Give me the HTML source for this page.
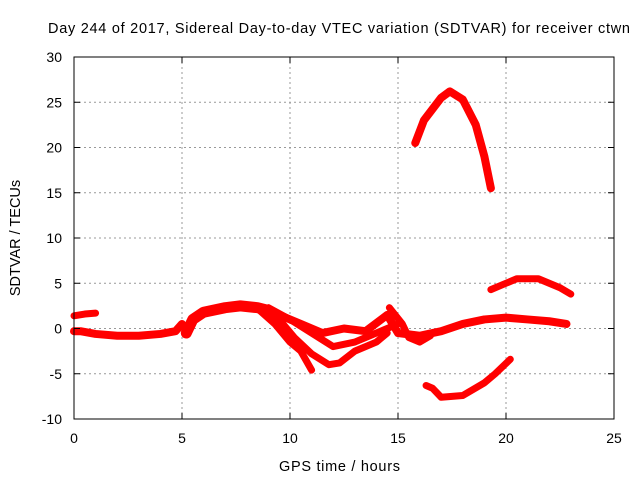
<!DOCTYPE html>
<html><head><meta charset="utf-8"><style>
body{margin:0;background:#fff}
svg{display:block;font-family:"Liberation Sans",sans-serif}
</style></head><body>
<svg id="chart" width="640" height="480" viewBox="0 0 640 480">
<text x="48" y="33" font-size="14.5" textLength="582" lengthAdjust="spacing">Day 244 of 2017, Sidereal Day-to-day VTEC variation (SDTVAR) for receiver ctwn</text>
<text x="279" y="471" font-size="14.5" textLength="121" lengthAdjust="spacing">GPS time / hours</text>
<text transform="translate(20,238) rotate(-90)" font-size="14.5" text-anchor="middle">SDTVAR / TECUs</text>
<g id="grid"></g>
<g id="series"></g>
<rect x="74" y="57" width="540" height="362" fill="none" stroke="#000" stroke-width="1"/>
<g id="ticks"></g>
</svg>
<script>
const xTicks=[0,5,10,15,20,25];
const yTicks=[-10,-5,0,5,10,15,20,25,30];
const trackA=[[0,1.4],[0.5,1.6],[1,1.7]];
const trackB=[[0,-0.3],[0.3,-0.3],[1,-0.6],[2,-0.8],[3,-0.8],[4,-0.6],[4.7,-0.3],[5,0.5]];
const trackC=[[5.2,-0.5],[5.5,1],[6,1.8],[7,2.3],[7.7,2.5],[8.5,2.3],[9,2]];
const trackD=[[8.5,2.2],[9.3,0.5],[10,-1.5],[10.5,-2.5],[11,-4.6]];
const trackE=[[8.8,2],[9.5,1],[10.2,-1],[11,-2.8],[11.8,-4],[12.3,-3.8],[13,-2.5],[14,-1.5],[14.5,-0.5]];
const trackF=[[9,2.3],[10,1],[11,-0.5],[12,-2],[13,-1.5],[14,-0.5],[15,0.5]];
const trackG=[[9.5,1.5],[10.5,0.5],[11.5,-0.5],[12.5,0],[13.5,-0.3],[14.5,1.5],[15,-0.5],[16,-0.8],[17,-0.3],[18,0.5],[19,1],[20,1.2],[21,1],[22,0.8],[22.8,0.5]];
const trackH=[[14.6,2.3],[15.2,0.5],[15.5,-1],[16,-1.5],[16.5,-0.8]];
const trackI=[[19.3,4.3],[19.8,4.8],[20.5,5.5],[21.5,5.5],[22,5],[22.5,4.5],[23,3.8]];
const trackJ=[[16.3,-6.3],[16.6,-6.6],[17,-7.6],[18,-7.4],[19,-6],[19.5,-5],[20.2,-3.4]];
const trackK=[[15.8,20.5],[16.2,23],[17,25.5],[17.4,26.2],[18,25.3],[18.6,22.5],[19,19],[19.3,15.5]];
const tracks=[trackA,trackB,trackC,trackD,trackE,trackF,trackG,trackH,trackI,trackJ,trackK];
const widths=[7,8,11,7,7,7,8,7,7,7,8];
const X=v=>74+v*21.6, Y=v=>328.5-v*9.05;
const NS="http://www.w3.org/2000/svg";
const grid=document.getElementById('grid'),ticks=document.getElementById('ticks'),ser=document.getElementById('series');
function mk(t,a,p){const e=document.createElementNS(NS,t);for(const k in a)e.setAttribute(k,a[k]);p.appendChild(e);return e;}
xTicks.forEach(v=>{
  if(v>0&&v<25){const g=mk('line',{x1:X(v),x2:X(v),y1:57,y2:419,stroke:'#999','stroke-dasharray':'2,3'},grid);
  
  }
  const t=mk('text',{x:X(v),y:443,'font-size':14,'text-anchor':'middle'},ticks);t.textContent=v;
  
  
  mk('line',{x1:X(v),x2:X(v),y1:419,y2:413,stroke:'#000'},ticks);
  mk('line',{x1:X(v),x2:X(v),y1:57,y2:63,stroke:'#000'},ticks);
});
yTicks.forEach(v=>{
  if(v>-10&&v<30){const g=mk('line',{x1:74,x2:614,y1:Y(v),y2:Y(v),stroke:'#999','stroke-dasharray':'2,3'},grid);
  
  }
  const t=mk('text',{x:62,y:Y(v)+5,'font-size':14,'text-anchor':'end'},ticks);t.textContent=v;
  
  
  mk('line',{x1:74,x2:80,y1:Y(v),y2:Y(v),stroke:'#000'},ticks);
  mk('line',{x1:614,x2:608,y1:Y(v),y2:Y(v),stroke:'#000'},ticks);
});
tracks.forEach((tr,i)=>{
  const p=mk('polyline',{points:tr.map(d=>X(d[0])+','+Y(d[1])).join(' '),fill:'none',stroke:'#f00','stroke-width':widths[i],'stroke-linejoin':'round','stroke-linecap':'round'},ser);
  
  
});
</script>
</body></html>
